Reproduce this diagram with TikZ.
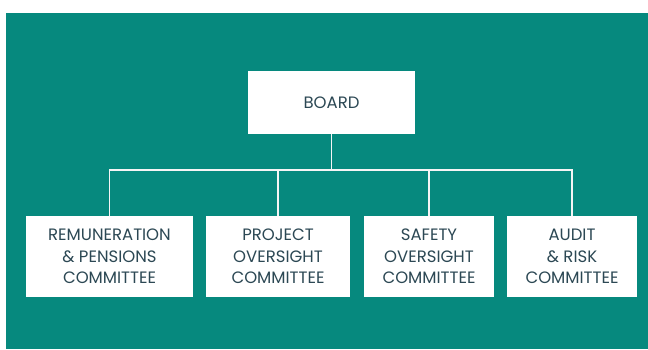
\documentclass[tikz,border=0pt]{standalone}
\usepackage{fontspec}
\setmainfont{Poppins}
\usepackage{tikz}
\usetikzlibrary{positioning}
\definecolor{boardteal}{RGB}{6,137,126}
\definecolor{labelslate}{RGB}{44,72,84}

\tikzset{
  orgbox/.style={fill=white, text=labelslate, align=center, inner sep=0pt,
    minimum height=81pt, font={\fontsize{16.5}{21.7}\selectfont}},
  conn/.style={draw=white!92!gray, line width=1.3pt}
}

\begin{document}
\begin{tikzpicture}[x=1pt, y=-1pt] % units follow the pixel grid
  \useasboundingbox (0,0) rectangle (648,349);
  \fill[boardteal] (6,13) rectangle (648,349);

  % top of the tree
  \node[orgbox, minimum width=167pt, minimum height=63pt] (board) at (331.5,102.5) {BOARD};

  % committees
  \node[orgbox, minimum width=167pt] (remun)   at (109.5,256.5) {REMUNERATION\\ \& PENSIONS\\ COMMITTEE};
  \node[orgbox, minimum width=144pt] (project) at (278,256.5)   {PROJECT\\ OVERSIGHT\\ COMMITTEE};
  \node[orgbox, minimum width=130pt] (safety)  at (429,256.5)   {SAFETY\\ OVERSIGHT\\ COMMITTEE};
  \node[orgbox, minimum width=130pt] (audit)   at (572,256.5)   {AUDIT\\ \& RISK\\ COMMITTEE};

  % connecting lines
  \coordinate (bus) at (0,170);
  \draw[conn] (board.south) -- (board.south |- bus);
  \draw[conn] (remun.north) -- (remun.north |- bus) -- (audit.north |- bus) -- (audit.north);
  \foreach \n in {project, safety}
    \draw[conn] (\n.north) -- (\n.north |- bus);
\end{tikzpicture}
\end{document}
